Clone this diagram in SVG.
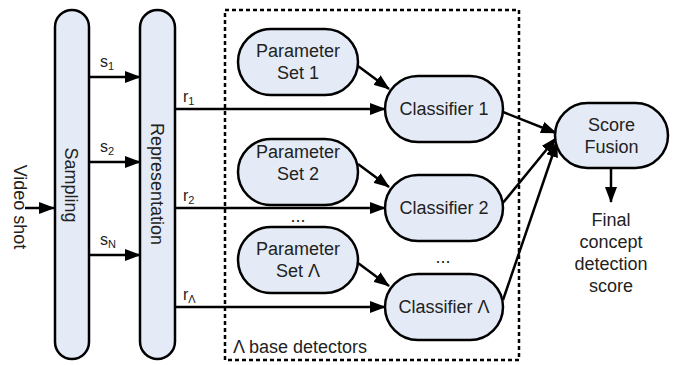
<svg xmlns="http://www.w3.org/2000/svg" width="674" height="365" viewBox="0 0 674 365">
<defs>
<style>
.n{fill:#e4ebf6;stroke:#000;stroke-width:2.5}
.t{font-family:"Liberation Sans",Arial,sans-serif;font-size:18px;fill:#222;text-anchor:middle}
.l{font-family:"Liberation Sans",Arial,sans-serif;font-size:16px;fill:#222}
.c{stroke:#000;stroke-width:2.5;fill:none}
.a{stroke:#000;stroke-width:2.5;fill:none;marker-end:url(#ah)}
</style>
<marker id="ah" markerUnits="userSpaceOnUse" markerWidth="16" markerHeight="12" refX="15" refY="6" orient="auto">
<path d="M0,0 L16,6 L0,12 Z" fill="#000"/>
</marker>
</defs>
<rect width="674" height="365" fill="#fff"/>
<g id="box">
<rect x="225" y="10" width="294" height="350" fill="none" stroke="#000" stroke-width="2.5" stroke-dasharray="4,3"/>
<text class="t" x="233" y="353" style="text-anchor:start">Λ base detectors</text>
</g>
<g id="connectors">
<line class="a" x1="25" y1="208" x2="54" y2="208"/>
<line class="a" x1="89" y1="77" x2="140" y2="77"/>
<line class="a" x1="89" y1="162" x2="140" y2="162"/>
<line class="a" x1="89" y1="255" x2="140" y2="255"/>
<line class="a" x1="175" y1="109" x2="385" y2="109"/>
<line class="a" x1="175" y1="208" x2="385" y2="208"/>
<line class="a" x1="175" y1="307" x2="385" y2="307"/>
<line class="a" x1="358" y1="66" x2="389" y2="89"/>
<line class="a" x1="358" y1="164" x2="389" y2="187"/>
<line class="a" x1="358" y1="263" x2="389" y2="286"/>
<line class="a" x1="503" y1="112" x2="556" y2="133"/>
<line class="a" x1="502" y1="204" x2="556" y2="138"/>
<line class="a" x1="503" y1="300" x2="557" y2="142"/>
<line class="a" x1="611" y1="168" x2="611" y2="202"/>
<text class="l" x="100" y="67">s<tspan font-size="11" dy="3">1</tspan></text>
<text class="l" x="100" y="152">s<tspan font-size="11" dy="3">2</tspan></text>
<text class="l" x="100" y="245">s<tspan font-size="11" dy="3">N</tspan></text>
<text class="l" x="183" y="102">r<tspan font-size="11" dy="3">1</tspan></text>
<text class="l" x="183" y="201">r<tspan font-size="11" dy="3">2</tspan></text>
<text class="l" x="183" y="300">r<tspan font-size="11" dy="3">Λ</tspan></text>
</g>
<g id="videoshot">
<text class="t" transform="translate(14,207) rotate(90)">Video shot</text>
</g>
<g id="sampling">
<rect class="n" x="55" y="10" width="34" height="349" rx="17"/>
<text class="t" transform="translate(65,185) rotate(90)">Sampling</text>
</g>
<g id="representation">
<rect class="n" x="140" y="10" width="35" height="349" rx="17.5"/>
<text class="t" transform="translate(151,184) rotate(90)">Representation</text>
</g>
<g id="param1">
<rect class="n" x="238" y="29" width="120" height="66" rx="33"/>
<text class="t" x="298" y="57">Parameter</text>
<text class="t" x="298" y="79">Set 1</text>
</g>
<g id="param2">
<rect class="n" x="238" y="139" width="120" height="66" rx="33"/>
<text class="t" x="298" y="158">Parameter</text>
<text class="t" x="298" y="180">Set 2</text>
</g>
<text class="t" x="298" y="222">...</text>
<g id="paramL">
<rect class="n" x="238" y="227" width="120" height="66" rx="33"/>
<text class="t" x="298" y="255">Parameter</text>
<text class="t" x="298" y="277">Set Λ</text>
</g>
<g id="class1">
<rect class="n" x="385" y="76" width="118" height="66" rx="33"/>
<text class="t" x="444" y="115">Classifier 1</text>
</g>
<g id="class2">
<rect class="n" x="385" y="175" width="118" height="66" rx="33"/>
<text class="t" x="444" y="214">Classifier 2</text>
</g>
<text class="t" x="443" y="263">...</text>
<g id="classL">
<rect class="n" x="385" y="274" width="118" height="66" rx="33"/>
<text class="t" x="444" y="313">Classifier Λ</text>
</g>
<g id="fusion">
<rect class="n" x="555" y="103" width="113" height="65" rx="32.5"/>
<text class="t" x="611.5" y="131">Score</text>
<text class="t" x="611.5" y="153">Fusion</text>
</g>
<g id="final">
<text class="t" x="611" y="226">Final</text>
<text class="t" x="611" y="248">concept</text>
<text class="t" x="611" y="270">detection</text>
<text class="t" x="611" y="292">score</text>
</g>
</svg>
